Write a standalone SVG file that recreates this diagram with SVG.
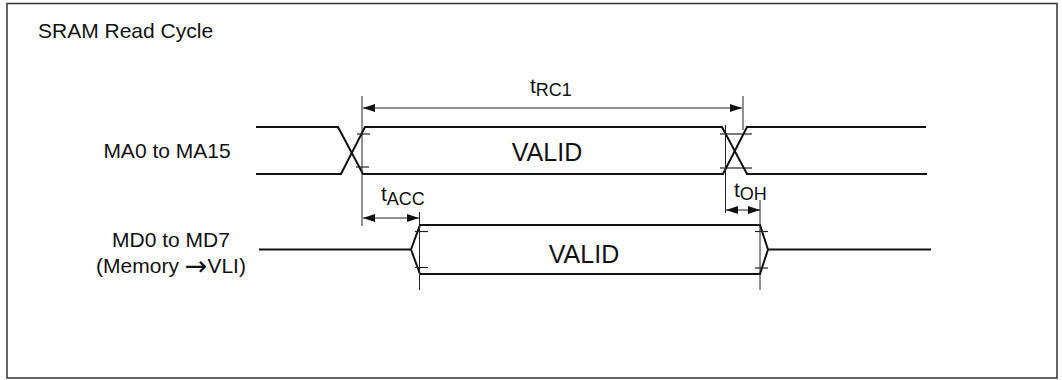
<svg xmlns="http://www.w3.org/2000/svg" width="1062" height="380" viewBox="0 0 1062 380">
<style>
text{font-family:"Liberation Sans",Arial,sans-serif;fill:#111}
.lbl{font-size:21px}
.valid{font-size:25px}
.sub{font-size:18px}
.arr{font-family:"DejaVu Sans",sans-serif;font-size:27px}
.wave{fill:none;stroke:#111;stroke-width:2;stroke-linejoin:miter}
.ref{fill:none;stroke:#222;stroke-width:1}
.tick{fill:none;stroke:#222;stroke-width:1.2}
.dim{fill:none;stroke:#222;stroke-width:1.2}
</style>
<defs>
<marker id="ah" viewBox="0 0 12 8" refX="12" refY="4" markerWidth="12" markerHeight="8" markerUnits="userSpaceOnUse" orient="auto-start-reverse">
<path d="M0,0 L12,4 L0,8 Z" fill="#111"/>
</marker>
</defs>
<rect x="7" y="3.5" width="1050" height="374.5" fill="#fff" stroke="#333" stroke-width="1.5"/>
<text class="lbl" x="38" y="38">SRAM Read Cycle</text>

<g id="MA">
<text class="lbl" x="167" y="158" text-anchor="middle">MA0 to MA15</text>
<polyline class="wave" points="256,127 338,127 363,174 723,174 747,127 926,127"/>
<polyline class="wave" points="256,174 341,174 365,127 722,127 747,174 927,174"/>
<text class="valid" x="547" y="161" text-anchor="middle">VALID</text>
<line class="tick" x1="357" y1="134" x2="370" y2="134"/>
<line class="tick" x1="356" y1="167" x2="369" y2="167"/>
<line class="tick" x1="720" y1="134" x2="752" y2="134"/>
<line class="tick" x1="720" y1="168" x2="752" y2="168"/>
</g>

<g id="MD">
<text class="lbl" x="171" y="247" text-anchor="middle">MD0 to MD7</text>
<text class="lbl" x="171" y="273" text-anchor="middle">(Memory <tspan class="arr" dy="2">→</tspan><tspan dy="-2">VLI)</tspan></text>
<polyline class="wave" points="259,249.5 411,249.5 420,225 760,225 768,249.5 931,249.5"/>
<polyline class="wave" points="411,249.5 420,274 760,274 768,249.5"/>
<text class="valid" x="584" y="263" text-anchor="middle">VALID</text>
<line class="tick" x1="415" y1="231.5" x2="428" y2="231.5"/>
<line class="tick" x1="415" y1="267.5" x2="428" y2="267.5"/>
<line class="tick" x1="755" y1="231.5" x2="768" y2="231.5"/>
<line class="tick" x1="755" y1="268" x2="768" y2="268"/>
</g>

<g id="connectors">
<line class="ref" x1="362" y1="96" x2="362" y2="226"/>
<line class="ref" x1="743" y1="96" x2="743" y2="130"/>
<line class="ref" x1="725.5" y1="125" x2="725.5" y2="213"/>
<line class="ref" x1="419.5" y1="212" x2="419.5" y2="290"/>
<line class="ref" x1="760" y1="200" x2="760" y2="290"/>
<line class="dim" x1="363" y1="108" x2="742" y2="108" marker-start="url(#ah)" marker-end="url(#ah)"/>
<line class="dim" x1="363" y1="218" x2="419" y2="218" marker-start="url(#ah)" marker-end="url(#ah)"/>
<line class="dim" x1="726" y1="210" x2="760" y2="210" marker-start="url(#ah)" marker-end="url(#ah)"/>
</g>

<g id="labels">
<text class="lbl" x="530" y="93">t<tspan class="sub" dy="3">RC1</tspan></text>
<text class="lbl" x="381" y="201">t<tspan class="sub" dy="4">ACC</tspan></text>
<text class="lbl" x="734" y="197">t<tspan class="sub" dy="3">OH</tspan></text>
</g>
</svg>
